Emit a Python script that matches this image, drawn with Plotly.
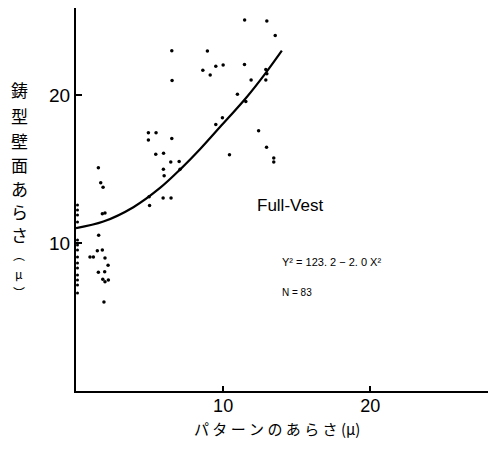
import plotly.graph_objects as go

# Scatter data (pattern roughness x, mould wall roughness y)
pts_x = [1.52, 1.68, 1.84, 1.79, 1.97, 1.54, 1.45, 1.79, 0.95, 1.18, 1.97, 2.18, 1.52, 1.95,
         1.82, 1.97, 2.20, 1.90, 4.92, 5.44, 4.92, 5.42, 5.95, 6.44, 7.01, 5.94, 5.99, 4.97,
         5.00, 5.92, 6.46, 6.51, 6.53, 6.51, 8.93, 8.62, 9.12, 9.50, 10.0, 11.45, 11.46, 12.97,
         13.54, 12.90, 12.97, 12.90, 11.90, 10.97, 11.54, 9.95, 9.50, 10.43, 12.41, 12.95,
         13.44, 13.44, 7.07]
pts_y = [15.09, 14.07, 13.76, 11.98, 12.03, 10.52, 9.48, 9.53, 9.05, 9.05, 8.99, 8.49, 8.02, 8.06,
         7.55, 7.39, 7.50, 6.01, 17.45, 17.45, 16.96, 15.99, 16.06, 15.47, 15.51, 14.98, 14.55, 13.13,
         12.53, 13.04, 13.04, 17.07, 20.98, 22.99, 22.97, 21.67, 21.35, 21.94, 22.03, 22.06, 25.07, 25.0,
         24.02, 21.72, 21.44, 21.01, 21.01, 20.05, 19.56, 18.47, 18.01, 15.97, 17.59, 16.47,
         15.74, 15.47, 14.98]
# Points lying along the y axis
axis_x = [0.1] * 14
axis_y = [12.57, 12.23, 11.89, 11.42, 10.2, 9.86, 9.53, 9.05, 8.65, 8.31, 7.84, 7.5, 7.16, 6.62]

# Regression curve
curve_x = [0.0, 1.86, 3.90, 5.71, 7.07, 8.44, 9.80, 11.61, 12.86, 13.99]
curve_y = [11.01, 11.45, 12.42, 13.72, 14.96, 16.35, 17.85, 19.87, 21.45, 23.0]

x_ticks = [10, 20]
y_ticks = [10, 20]

# Vertical y-axis title characters
y_title_chars = ["鋳", "型", "壁", "面", "あ", "ら", "さ", "︵", "μ", "︶"]
y_title_pix = [90, 116, 141, 164, 188, 211, 234, 254, 273, 292]

fig = go.Figure()
fig.add_trace(go.Scatter(x=curve_x, y=curve_y, mode="lines", line=dict(color="black", width=2.2, shape="spline"),
                         hoverinfo="skip"))
fig.add_trace(go.Scatter(x=pts_x, y=pts_y, mode="markers", marker=dict(color="black", size=3.5)))
fig.add_trace(go.Scatter(x=axis_x, y=axis_y, mode="markers", marker=dict(color="black", size=3), cliponaxis=False))

tickfont = dict(family="Liberation Sans, Arial, sans-serif", size=19, color="black")
fig.update_layout(
    width=488, height=450,
    margin=dict(l=76, r=0, t=8, b=59),
    paper_bgcolor="white", plot_bgcolor="white",
    showlegend=False,
    xaxis=dict(range=[0, 28], tickvals=x_ticks, ticktext=[str(v) for v in x_ticks], showline=True,
               linecolor="black", linewidth=2, showgrid=False, zeroline=False, ticks="inside",
               ticklen=5, tickwidth=1.5, tickcolor="black", tickfont=dict(tickfont, size=18),
               ticklabelstandoff=-3),
    yaxis=dict(range=[0, 25.88], tickvals=y_ticks, ticktext=[str(v) for v in y_ticks], showline=True,
               linecolor="black", linewidth=2, showgrid=False, zeroline=False, ticks="inside",
               ticklen=6, tickwidth=1.5, tickcolor="black", tickfont=tickfont),
)

jp = "Noto Sans CJK JP"
fig.add_annotation(text="パ タ ー ン の あ ら さ (μ)", xref="paper", yref="paper", x=(277 - 76) / 412,
                   y=(391 - 428) / 383, showarrow=False, xanchor="center", yanchor="middle",
                   font=dict(family=jp, size=15, color="black"))
for ch, py in zip(y_title_chars, y_title_pix):
    small = ch in ("︵", "︶", "μ")
    fig.add_annotation(text=ch, xref="paper", yref="paper", x=(19 - 76) / 412, y=(391 - py) / 383,
                       showarrow=False, xanchor="center", yanchor="middle",
                       font=dict(family=jp, size=12 if small else 17, color="black"))
fig.add_annotation(text="Full-Vest", xref="paper", yref="paper", x=(255 - 76) / 412, y=(391 - 205) / 383,
                   showarrow=False, xanchor="left", yanchor="middle",
                   font=dict(family="Liberation Sans, Arial", size=17, color="black"))
fig.add_annotation(text="Y² = 123. 2 − 2. 0 X²", xref="paper", yref="paper", x=(280 - 76) / 412,
                   y=(391 - 262) / 383, showarrow=False, xanchor="left", yanchor="middle",
                   font=dict(family="Liberation Sans, Arial", size=11, color="black"))
fig.add_annotation(text="N = 83", xref="paper", yref="paper", x=(280 - 76) / 412,
                   y=(391 - 292) / 383, showarrow=False, xanchor="left", yanchor="middle",
                   font=dict(family="Liberation Sans, Arial", size=10, color="black"))

fig.write_html("out.html")
